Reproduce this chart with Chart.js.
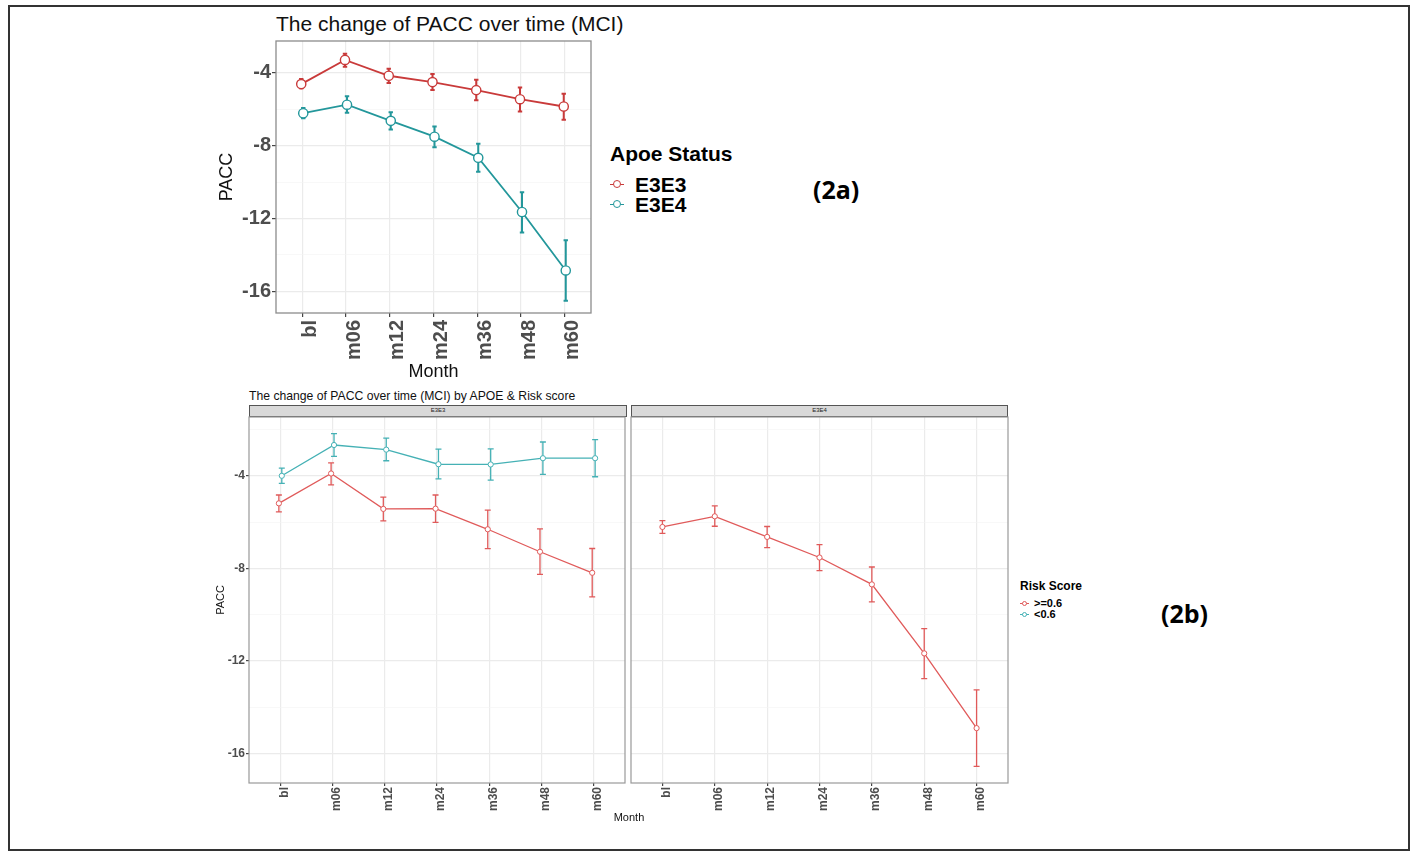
<!DOCTYPE html>
<html>
<head>
<meta charset="utf-8">
<script src="https://cdn.jsdelivr.net/npm/chart.js@4.4.1/dist/chart.umd.min.js"></script>
<style>
  body { margin: 0; background: #fff; font-family: "Liberation Sans", Arial, sans-serif; }
  #page { position: relative; width: 1414px; height: 851px; overflow: hidden; }
  .frame { position: absolute; left: 8px; top: 5px; width: 1402px; height: 846px; border: 2px solid #333; box-sizing: border-box; }
  .txt { position: absolute; line-height: 1; white-space: nowrap; transform: translateY(-50%); color: #111; }
  .bold { font-weight: bold; }
  .tag { font-family: "Open Sans", sans-serif; font-weight: bold; color: #000; }
  .strip { position: absolute; background: #d9d9d9; border: 1px solid #555; box-sizing: border-box;
           font-size: 6px; line-height: 9px; text-align: center; color: #222; }
  .key { position: absolute; }
  .key .ln { position: absolute; left: 0; top: 0; height: 0; }
  .key .pt { position: absolute; border-radius: 50%; background: #fff; box-sizing: border-box; }
  canvas { position: absolute; }
</style>
</head>
<body>
<div id="page">
  <div class="frame"></div>

  <!-- (2a) -->
  <div class="txt" style="left:276px; top:23px; font-size:21px;">The change of PACC over time (MCI)</div>
  <canvas id="chart2a" width="400" height="350" style="left:200px; top:35px;"></canvas>

  <div class="txt bold" style="left:610px; top:153px; font-size:21px; color:#000;">Apoe Status</div>
  <div class="key" style="left:610px; top:184px;">
    <div class="ln" style="width:14px; border-top:1.5px solid #c93a3a;"></div>
    <div class="pt" style="left:3px; top:-4px; width:8px; height:8px; border:1.3px solid #c93a3a;"></div>
  </div>
  <div class="txt bold" style="left:635px; top:184px; font-size:21px; color:#000;">E3E3</div>
  <div class="key" style="left:610px; top:204px;">
    <div class="ln" style="width:14px; border-top:1.5px solid #23979b;"></div>
    <div class="pt" style="left:3px; top:-4px; width:8px; height:8px; border:1.3px solid #23979b;"></div>
  </div>
  <div class="txt bold" style="left:635px; top:204px; font-size:21px; color:#000;">E3E4</div>
  <div class="txt tag" style="left:813px; top:189px; font-size:25px;">(2a)</div>

  <!-- (2b) -->
  <div class="txt" style="left:249px; top:396px; font-size:12.2px;">The change of PACC over time (MCI) by APOE &amp; Risk score</div>
  <div class="strip" style="left:249px; top:405px; width:378px; height:12px;">E3E3</div>
  <div class="strip" style="left:631px; top:405px; width:377px; height:12px;">E3E4</div>
  <canvas id="chart2bLeft" width="430" height="430" style="left:200px; top:400px;"></canvas>
  <canvas id="chart2bRight" width="400" height="430" style="left:620px; top:400px;"></canvas>
  <div class="txt" style="left:629px; top:817px; font-size:11px; transform:translate(-50%,-50%);">Month</div>

  <div class="txt bold" style="left:1020px; top:586px; font-size:12px; color:#000;">Risk Score</div>
  <div class="key" style="left:1020px; top:603px;">
    <div class="ln" style="width:9px; border-top:1px solid #e05a5a;"></div>
    <div class="pt" style="left:2px; top:-2.5px; width:5px; height:5px; border:1px solid #e05a5a;"></div>
  </div>
  <div class="txt bold" style="left:1034px; top:603px; font-size:11px; color:#000;">&gt;=0.6</div>
  <div class="key" style="left:1020px; top:614px;">
    <div class="ln" style="width:9px; border-top:1px solid #45b1b5;"></div>
    <div class="pt" style="left:2px; top:-2.5px; width:5px; height:5px; border:1px solid #45b1b5;"></div>
  </div>
  <div class="txt bold" style="left:1034px; top:614px; font-size:11px; color:#000;">&lt;0.6</div>
  <div class="txt tag" style="left:1161px; top:613px; font-size:25px;">(2b)</div>
</div>

<script>
// x categories
const months = ["bl", "m06", "m12", "m24", "m36", "m48", "m60"];
const yTickValues = [-18, -16, -14, -12, -10, -8, -6, -4, -2];

// (2a) PACC by APOE status: mean and error bar ends
const e3e3Mean = [-4.62, -3.29, -4.16, -4.51, -4.95, -5.45, -5.85];
const e3e3Low = [-4.85, -3.66, -4.56, -4.95, -5.51, -6.13, -6.58];
const e3e3High = [-4.34, -2.95, -3.77, -4.07, -4.38, -4.80, -5.15];
const e3e4Mean = [-6.22, -5.75, -6.64, -7.51, -8.67, -11.65, -14.86];
const e3e4Low = [-6.49, -6.20, -7.11, -8.09, -9.44, -12.77, -16.53];
const e3e4High = [-5.93, -5.29, -6.16, -6.95, -7.90, -10.56, -13.20];

// (2b) E3E3 panel, by risk score
const hiRiskE3E3Mean = [-5.19, -3.90, -5.43, -5.42, -6.31, -7.28, -8.19];
const hiRiskE3E3Low = [-5.56, -4.39, -5.95, -6.01, -7.15, -8.26, -9.23];
const hiRiskE3E3High = [-4.83, -3.44, -4.92, -4.83, -5.48, -6.29, -7.14];
const loRiskE3E3Mean = [-4.00, -2.67, -2.87, -3.50, -3.51, -3.24, -3.24];
const loRiskE3E3Low = [-4.33, -3.16, -3.35, -4.13, -4.19, -3.94, -4.04];
const loRiskE3E3High = [-3.67, -2.18, -2.37, -2.85, -2.84, -2.54, -2.44];

// (2b) E3E4 panel, only >=0.6
const hiRiskE3E4Mean = [-6.21, -5.75, -6.64, -7.53, -8.69, -11.67, -14.90];
const hiRiskE3E4Low = [-6.49, -6.18, -7.10, -8.10, -9.45, -12.76, -16.55];
const hiRiskE3E4High = [-5.94, -5.30, -6.19, -6.97, -7.94, -10.60, -13.25];

const FONT = "'Liberation Sans', Arial, sans-serif";

// draws vertical error bars with caps, under the lines and points
const errorBars = {
  id: "errorBars",
  beforeDatasetsDraw(chart, args, opts) {
    const { ctx, scales } = chart;
    chart.data.datasets.forEach((ds) => {
      if (!ds.errLow) return;
      ctx.save();
      ctx.strokeStyle = ds.borderColor;
      ctx.lineWidth = opts.width;
      ds.data.forEach((p, i) => {
        const px = scales.x.getPixelForValue(p.x);
        const yl = scales.y.getPixelForValue(ds.errLow[i]);
        const yh = scales.y.getPixelForValue(ds.errHigh[i]);
        ctx.beginPath();
        ctx.moveTo(px, yl);
        ctx.lineTo(px, yh);
        ctx.moveTo(px - opts.cap, yl);
        ctx.lineTo(px + opts.cap, yl);
        ctx.moveTo(px - opts.cap, yh);
        ctx.lineTo(px + opts.cap, yh);
        ctx.stroke();
      });
      ctx.restore();
    });
  },
};

// ggplot theme_bw style panel border
const panelBorder = {
  id: "panelBorder",
  afterDraw(chart, args, opts) {
    const { ctx, chartArea: a } = chart;
    ctx.save();
    ctx.strokeStyle = opts.color;
    ctx.lineWidth = opts.width;
    ctx.strokeRect(a.left, a.top, a.right - a.left, a.bottom - a.top);
    ctx.restore();
  },
};

function series(label, mean, low, high, color, dodge, s) {
  return {
    label: label,
    data: mean.map((v, i) => ({ x: i + dodge, y: v })),
    errLow: low,
    errHigh: high,
    borderColor: color,
    backgroundColor: "#fff",
    borderWidth: s.line,
    pointRadius: s.point,
    pointBorderWidth: s.pointBorder,
    pointBackgroundColor: "#fff",
    pointBorderColor: color,
    tension: 0,
  };
}

// fixed axis sizes, no extra label overhang padding
function fixSize(scale, prop, size) {
  scale[prop] = size;
  scale.paddingTop = 0;
  scale.paddingBottom = 0;
  scale.paddingLeft = 0;
  scale.paddingRight = 0;
}

function makeChart(id, datasets, o) {
  return new Chart(document.getElementById(id), {
    type: "line",
    data: { datasets },
    plugins: [errorBars, panelBorder],
    options: {
      responsive: false,
      animation: false,
      layout: { padding: o.padding },
      plugins: {
        legend: { display: false },
        tooltip: { enabled: false },
        errorBars: { width: o.errWidth, cap: o.cap },
        panelBorder: { color: o.borderColor, width: o.borderWidth },
      },
      scales: {
        x: {
          type: "linear",
          min: -0.6,
          max: 6.6,
          afterBuildTicks: (scale) => {
            scale.ticks = months.map((m, i) => ({ value: i }));
          },
          afterFit: (scale) => fixSize(scale, "height", o.xHeight),
          border: { display: false },
          grid: { color: "#ebebeb", lineWidth: 1.2, tickLength: o.tickLength, tickColor: "#444" },
          ticks: {
            autoSkip: false,
            minRotation: 90,
            maxRotation: 90,
            labelOffset: o.labelOffset,
            padding: o.xPad,
            color: "#4d4d4d",
            font: { family: FONT, size: o.tickSize, weight: "bold" },
            callback: (v) => months[v],
          },
          title: o.xTitle
            ? { display: true, text: "Month", color: "#111", font: { family: FONT, size: o.xTitleSize }, padding: { top: 4, bottom: 2 } }
            : { display: false },
        },
        y: {
          min: o.yMin,
          max: o.yMax,
          afterBuildTicks: (scale) => {
            scale.ticks = yTickValues.filter((v) => v >= o.yMin && v <= o.yMax).map((v) => ({ value: v }));
          },
          afterFit: (scale) => fixSize(scale, "width", o.yWidth),
          border: { display: false },
          grid: {
            color: (c) => (c.tick && c.tick.value % 4 === 0 ? "#ebebeb" : "#f4f4f4"),
            lineWidth: (c) => (c.tick && c.tick.value % 4 === 0 ? 1.2 : 0.6),
            drawTicks: o.yLabels,
            tickLength: o.tickLength,
            tickColor: (c) => (c.tick && c.tick.value % 4 === 0 ? "#444" : "rgba(0,0,0,0)"),
          },
          ticks: {
            display: o.yLabels,
            padding: 1,
            color: "#4d4d4d",
            font: { family: FONT, size: o.tickSize, weight: "bold" },
            callback: (v) => (v % 4 === 0 ? String(v) : ""),
          },
          title: o.yLabels
            ? { display: true, text: "PACC", color: "#111", font: { family: FONT, size: o.yTitleSize }, padding: { top: o.yTitlePad, bottom: 0 } }
            : { display: false },
        },
      },
    },
  });
}

// (2a)
const bigStyle = { line: 1.8, point: 4.6, pointBorder: 1.4 };
makeChart(
  "chart2a",
  [
    series("E3E3", e3e3Mean, e3e3Low, e3e3High, "#c93a3a", -0.023, bigStyle),
    series("E3E4", e3e4Mean, e3e4Low, e3e4High, "#23979b", 0.023, bigStyle),
  ],
  {
    padding: { left: 0, right: 9, top: 5, bottom: 0 },
    xHeight: 72, yWidth: 76, yMin: -17.2, yMax: -2.25,
    tickLength: 4, labelOffset: 8, xPad: 3, tickSize: 20,
    xTitle: true, xTitleSize: 18, yLabels: true, yTitleSize: 18, yTitlePad: 16,
    errWidth: 2, cap: 2.2, borderColor: "#8c8c8c", borderWidth: 1.3,
  }
);

// (2b) panels
const smallStyle = { line: 1.3, point: 2.6, pointBorder: 1 };
const panelOpts = {
  xHeight: 47, yMin: -17.27, yMax: -1.46,
  tickLength: 3, labelOffset: 4, xPad: 1, tickSize: 12,
  xTitle: false, yTitleSize: 11, yTitlePad: 14,
  errWidth: 1.3, cap: 3, borderColor: "#999", borderWidth: 1.2,
};
makeChart(
  "chart2bLeft",
  [
    series(">=0.6", hiRiskE3E3Mean, hiRiskE3E3Low, hiRiskE3E3High, "#e05a5a", -0.028, smallStyle),
    series("<0.6", loRiskE3E3Mean, loRiskE3E3Low, loRiskE3E3High, "#45b1b5", 0.028, smallStyle),
  ],
  Object.assign({}, panelOpts, { padding: { left: 0, right: 3, top: 17, bottom: 0 }, yWidth: 49, yLabels: true })
);
makeChart(
  "chart2bRight",
  [series(">=0.6", hiRiskE3E4Mean, hiRiskE3E4Low, hiRiskE3E4High, "#e05a5a", 0, smallStyle)],
  Object.assign({}, panelOpts, { padding: { left: 11, right: 12, top: 17, bottom: 0 }, yWidth: 0, yLabels: false })
);
</script>
</body>
</html>
